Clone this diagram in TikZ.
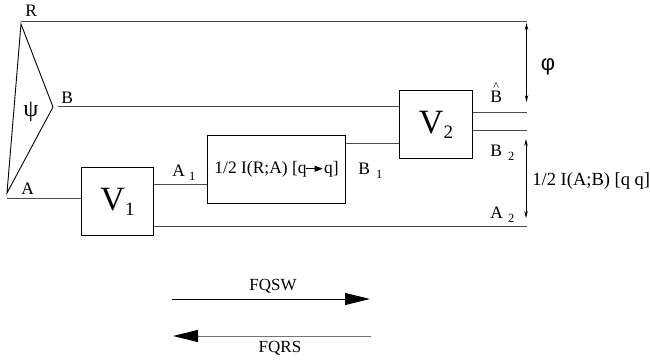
\documentclass[tikz,border=0pt]{standalone}
\usepackage{fontspec}
\setmainfont{Liberation Serif}
\newfontfamily\symfont{Liberation Sans}
\usetikzlibrary{arrows.meta}
\begin{document}
\begin{tikzpicture}[x=1pt,y=-1pt,line width=0.9pt,
  lbl/.style={anchor=base west,inner sep=0pt,font=\fontsize{17.5}{19}\selectfont},
  box/.style={draw,line width=1pt,inner sep=0pt,anchor=north west},
  wire/.style={draw=black!70,line width=1pt},
  dimarrow/.style={{Stealth[length=7pt,width=3.5pt]}-{Stealth[length=7pt,width=3.5pt]},line width=0.8pt},
  bigarrow/.style={-{Triangle[length=25pt,width=12pt,color=black]},line width=1pt}]
\useasboundingbox (0,0) rectangle (650,363);
\newcommand{\sublbl}[3]{#1\hspace{#3}\raisebox{-3.5pt}{\fontsize{12.5}{12.5}\selectfont #2}}
\newcommand{\bigV}[1]{{\fontsize{34}{34}\selectfont V}\raisebox{-5pt}{\fontsize{19}{19}\selectfont #1}}

% triangle psi
\coordinate (tR) at (21,24);
\coordinate (tB) at (53,107);
\coordinate (tA) at (7,193);
\draw (tR) -- (tB) -- (tA) -- cycle;
\node (psi) at (31,112) {\fontsize{24}{24}\selectfont ψ};

% boxes
\node[box,minimum width=72pt,minimum height=68pt] (V1) at (81,167) {\bigV{1}};
\node[box,minimum width=138pt,minimum height=68pt,font=\fontsize{17.5}{19}\selectfont] (box2) at (207,135)
  {\raisebox{-2pt}{1/2 I(R;A) [q\kern-1.5pt\tikz[baseline=-5pt]\draw[line width=0.8pt,-{Triangle[length=8pt,width=6pt]}] (0pt,0pt) -- (17pt,0pt);\kern1pt q]}};
\node[box,minimum width=73pt,minimum height=68pt] (V2) at (399,90) {\bigV{2}};

% helper coordinates
\coordinate (rL) at (21,22);
\coordinate (rE) at (527,22);
\coordinate (bL) at (58,107);
\coordinate (aL) at (7,199);
\coordinate (yA1) at (0,185);
\coordinate (yA2) at (0,227);
\coordinate (yB1) at (0,144);
\coordinate (yBh) at (0,113);
\coordinate (yB2) at (0,131);
\coordinate (bhE) at (527,113);
\coordinate (b2E) at (527,131);
\coordinate (a2E) at (527,227);

% wires
\draw[wire] (rL) -- (rE);
\draw[wire] (bL) -- (bL -| V2.west);
\draw[wire] (aL) -- (aL -| V1.west);
\draw[wire] (V1.east |- yA1) -- (box2.west |- yA1);
\draw[wire] (V1.east |- yA2) -- (a2E);
\draw[wire] (box2.east |- yB1) -- (V2.west |- yB1);
\draw[wire] (V2.east |- yBh) -- (bhE);
\draw[wire] (V2.east |- yB2) -- (b2E);

% labels
\node[lbl] (lR) at (25,17) {R};
\node[lbl] (lB) at (61,104) {B};
\node[lbl] (lA) at (21,195) {A};
\node[lbl] (lA1) at (172,177) {\sublbl{A}{1}{4pt}};
\node[lbl] (lB1) at (358,175) {\sublbl{B}{1}{6pt}};
\node[lbl] (lBh) at (490,103) {\rlap{\hspace{3pt}\raisebox{12.5pt}{\fontsize{12}{12}\selectfont\textasciicircum}}B};
\node[lbl] (lB2) at (490,157) {\sublbl{B}{2}{6pt}};
\node[lbl] (lA2) at (490,219) {\sublbl{A}{2}{5pt}};

% dimension arrows
\coordinate (p1) at (526.5,23);
\coordinate (p2) at (526.5,102);
\coordinate (q1) at (526,139);
\coordinate (q2) at (526,218);
\draw[dimarrow] (p1) -- (p2);
\draw[dimarrow] (q1) -- (q2);
\node (phi) at (548,67) {\fontsize{22}{22}\symfont φ};
\node[lbl,font=\fontsize{18.5}{20}\selectfont] (iab) at (532,186) {1/2 I(A;B) [q q]};

% protocol arrows
\coordinate (f1) at (172,299);
\coordinate (f2) at (370,299);
\coordinate (g1) at (371,336);
\coordinate (g2) at (173,336);
\draw[bigarrow] (f1) -- (f2);
\draw[bigarrow,draw=black!55] (g1) -- (g2);
\node[font=\fontsize{17}{18}\selectfont,anchor=base] (fqsw) at (273,290) {FQSW};
\node[font=\fontsize{17}{18}\selectfont,anchor=base] (fqrs) at (280,352) {FQRS};
\end{tikzpicture}
\end{document}
